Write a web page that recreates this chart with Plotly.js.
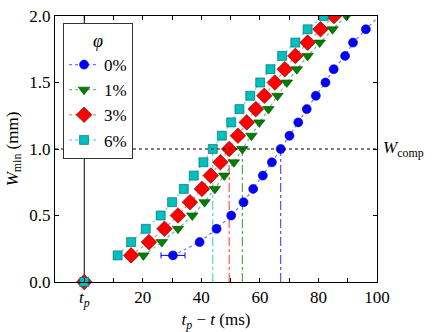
<!DOCTYPE html>
<html>
<head>
<meta charset="utf-8">
<script src="https://cdn.plot.ly/plotly-3.0.1.min.js"></script>
<style>html,body{margin:0;padding:0;background:#fff;}#chart{width:443px;height:332px;}</style>
</head>
<body>
<div id="chart"></div>
<script>
// Width levels (mm)
const wLevels = [0.2,0.3,0.4,0.5,0.6,0.7,0.8,0.9,1.0,1.1,1.2,1.3,1.4,1.5,1.6,1.7,1.8,1.9,2.0];
// tp - t (ms) for each phi
const phiLabels = ['0%','1%','3%','6%'];
const t0 = [30.3,39.4,45.2,50.2,54.4,57.7,61.0,64.1,67.1,70.1,73.1,76.0,79.1,82.4,85.2,89.1,91.8,96.2,100.8];
const t1 = [20.2,26.5,32.0,36.9,41.1,44.6,47.8,51.1,54.0,57.1,59.8,62.9,66.0,69.2,72.6,76.3,80.4,84.8,89.6];
const t3 = [16.0,22.1,27.4,32.0,36.1,40.2,43.2,46.5,49.5,52.5,55.5,58.6,61.5,65.1,68.5,72.1,76.3,80.7,85.3];
const t6 = [11.4,16.0,21.0,26.1,30.0,34.0,37.4,40.7,43.9,47.0,50.2,53.0,56.7,60.1,63.6,67.6,72.1,76.3,81.8];
// horizontal error (ms)
const err0 = [4.1,0,0,0,0,0,0,0,0,0,0,0,0,0,0,0,0,0,0];
// crossing time at W_comp for each phi
const crossT = [67.1,54.0,49.5,43.9];
const wComp = 1.0;
// pinch-off point
const tpX = [0];
const tpY = [0];
// ticks
const xTickVals = [0,20,40,60,80,100];
const xTickText = ['<i>t<sub>p</sub></i>','20','40','60','80','100'];
const yTickVals = [0,0.5,1.0,1.5,2.0];
const yTickText = ['0.0','0.5','1.0','1.5','2.0'];

const series = [t0,t1,t3,t6];
const colors = ['#0000ff','#008000','#ff0000','#00bfbf'];
const lineColors = ['rgba(0,0,255,0.55)','rgba(0,128,0,0.55)','rgba(255,0,0,0.5)','rgba(0,191,191,0.6)'];
const edgeColors = ['#0000b0','#004000','#600000','#006060'];
const symbols = ['circle','triangle-down','diamond','square'];
const sizes = [9,10,12,9];
const font = 'Liberation Serif';

const traces = [];
crossT.forEach((c,i)=>{
  traces.push({x:[c,c], y:[0,wComp], mode:'lines', showlegend:false, hoverinfo:'skip',
    line:{color:colors[i], width:1, dash:'dashdot'}, opacity:0.8});
});
traces.push({x:[tpX[0],tpX[0]], y:[0,2.0], mode:'lines', showlegend:false, hoverinfo:'skip', line:{color:'#000', width:1}});
series.forEach((s,i)=>{
  traces.push({
    x:s, y:wLevels, name:phiLabels[i], mode:'lines+markers', cliponaxis:true,
    line:{color:lineColors[i], width:1.2, dash:'dot'},
    marker:{symbol:symbols[i], size:sizes[i], color:colors[i], line:{color:edgeColors[i], width:0.6}},
    error_x: i===0 ? {type:'data', array:err0, visible:true, color:colors[i], thickness:1, width:3} : undefined
  });
});
series.forEach((s,i)=>{
  traces.push({x:tpX, y:tpY, mode:'markers', showlegend:false, cliponaxis:false, hoverinfo:'skip',
    marker:{symbol:symbols[i], size:sizes[i], color:colors[i], line:{color:edgeColors[i], width:0.6}}});
});

const layout = {
  width:443, height:332,
  margin:{l:55, r:66, t:16, b:50},
  paper_bgcolor:'#fff', plot_bgcolor:'#fff',
  font:{family:font, size:17, color:'#000'},
  showlegend:true,
  xaxis:{range:[-10,100], tickvals:xTickVals, ticktext:xTickText, ticks:'inside', ticklen:4,
    tickcolor:'#000', showgrid:false, zeroline:false, showline:true, linecolor:'#000', linewidth:1, mirror:'ticks',
    minor:{dtick:10, tick0:0, ticks:'inside', ticklen:4, tickcolor:'#000', showgrid:false},
    tickfont:{family:font, size:17},
    title:{text:'<i>t<sub>p</sub></i> − <i>t</i> (ms)', font:{family:font, size:17}, standoff:4}},
  yaxis:{range:[0,2.0], tickvals:yTickVals, ticktext:yTickText, ticks:'inside', ticklen:4,
    tickcolor:'#000', showgrid:false, zeroline:false, showline:true, linecolor:'#000', linewidth:1, mirror:'ticks',
    tickfont:{family:font, size:17},
    title:{text:'<i>W</i><sub>min</sub> (mm)', font:{family:font, size:17}, standoff:6}},
  legend:{x:0.025, y:0.975, xanchor:'left', yanchor:'top', bgcolor:'#fff', bordercolor:'#333', borderwidth:1,
    font:{family:font, size:17}, title:{text:'<i>φ</i>', side:'top center', font:{family:font, size:18}},
    tracegroupgap:0},
  shapes:[{type:'line', xref:'paper', x0:0, x1:1, yref:'y', y0:wComp, y1:wComp, line:{color:'#000', width:1, dash:'dot'}}],
  annotations:[{xref:'paper', x:1, yref:'y', y:wComp, xanchor:'left', xshift:4, showarrow:false,
    text:'<i>W</i><sub>comp</sub>', font:{family:font, size:17}}]
};
Plotly.newPlot('chart', traces, layout, {displayModeBar:false, staticPlot:true});
</script>
</body>
</html>
